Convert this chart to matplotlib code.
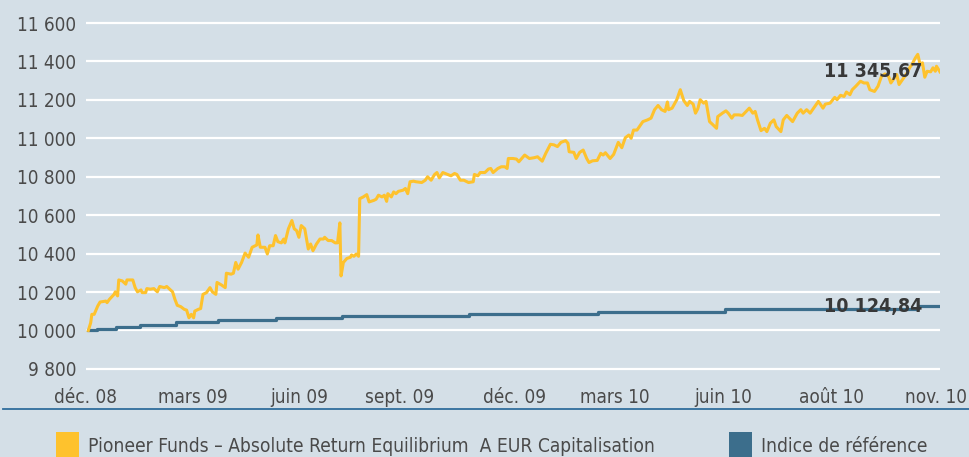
import numpy as np
import matplotlib
matplotlib.use('Agg')
import matplotlib.pyplot as plt
from matplotlib.ticker import FuncFormatter
from matplotlib.patches import Rectangle
from matplotlib.lines import Line2D


##### Data (jours depuis le début de la période, valeurs en EUR)
jours_fonds = [0, 2, 3, 5, 8, 10, 15, 16, 18, 22, 23, 25, 26, 29, 32, 33, 38, 40, 42, 45,
               46, 49, 50, 53, 56, 59, 61, 65, 67, 69, 72, 74, 76, 79, 82, 84, 86, 88, 90, 91,
               94, 96, 98, 101, 104, 106, 109, 110, 114, 117, 118, 122, 124, 126, 128, 131, 134, 137, 140, 144,
               145, 147, 151, 153, 155, 158, 160, 162, 165, 167, 168, 171, 174, 176, 178, 180, 182, 185, 188, 190,
               192, 195, 198, 201, 202, 205, 208, 211, 213, 215, 216, 218, 221, 224, 225, 227, 229, 231, 232, 235,
               238, 240, 244, 246, 248, 251, 253, 255, 256, 259, 261, 263, 265, 269, 271, 273, 275, 278, 280, 285,
               288, 290, 293, 296, 298, 300, 303, 307, 310, 313, 315, 318, 321, 325, 329, 330, 333, 335, 339, 342,
               344, 346, 350, 353, 356, 358, 359, 363, 366, 368, 370, 373, 377, 381, 384, 388, 391, 395, 398, 401,
               404, 408, 410, 411, 415, 417, 420, 423, 426, 428, 431, 435, 438, 440, 442, 446, 449, 453, 456, 459,
               462, 464, 466, 469, 474, 478, 481, 484, 487, 490, 493, 495, 496, 499, 503, 506, 509, 512, 514, 517,
               519, 521, 523, 526, 528, 531, 534, 537, 538, 542, 545, 547, 550, 552, 556, 559, 565, 568, 570, 572,
               575, 578, 580, 583, 586, 588, 592, 594, 597, 602, 606, 609, 611, 614, 617, 620, 624, 626, 628, 630,
               634, 638, 640, 643, 646, 648, 651, 653, 656, 660, 663, 666, 668, 672, 675, 678, 681, 684, 686, 688,
               691, 693, 696, 700, 702, 704, 707, 709, 711, 713, 715, 717, 720, 722, 724, 725, 728]
valeurs_fonds = [10000, 10040, 10084, 10084, 10127, 10148, 10153, 10145, 10162, 10188, 10201, 10180, 10263, 10258, 10241, 10263, 10263, 10223, 10201, 10211,
                 10197, 10197, 10218, 10215, 10218, 10201, 10229, 10223, 10229, 10218, 10201, 10162, 10131, 10124, 10110, 10106, 10066, 10084, 10066, 10101,
                 10110, 10114, 10188, 10197, 10223, 10201, 10188, 10250, 10236, 10223, 10298, 10293, 10298, 10354, 10319, 10354, 10403, 10381, 10433, 10445,
                 10497, 10433, 10433, 10398, 10441, 10441, 10494, 10462, 10456, 10476, 10456, 10529, 10572, 10529, 10520, 10485, 10546, 10529, 10424, 10450,
                 10415, 10450, 10476, 10476, 10485, 10468, 10468, 10456, 10456, 10560, 10284, 10354, 10375, 10381, 10393, 10386, 10398, 10386, 10686, 10695,
                 10707, 10669, 10677, 10683, 10704, 10695, 10704, 10672, 10712, 10695, 10721, 10712, 10724, 10730, 10739, 10712, 10774, 10777, 10774, 10770,
                 10782, 10800, 10782, 10812, 10822, 10794, 10822, 10812, 10805, 10817, 10812, 10782, 10782, 10770, 10774, 10812, 10805, 10822, 10822, 10840,
                 10843, 10822, 10843, 10852, 10852, 10843, 10895, 10895, 10892, 10878, 10892, 10913, 10895, 10899, 10904, 10881, 10922, 10969, 10966, 10957,
                 10979, 10988, 10974, 10930, 10927, 10895, 10927, 10939, 10895, 10874, 10883, 10885, 10922, 10913, 10925, 10895, 10916, 10979, 10951, 11003,
                 11017, 11000, 11043, 11043, 11087, 11096, 11105, 11149, 11171, 11149, 11140, 11189, 11149, 11157, 11201, 11253, 11196, 11171, 11192, 11178,
                 11131, 11154, 11201, 11183, 11192, 11087, 11070, 11052, 11113, 11131, 11143, 11131, 11105, 11122, 11122, 11119, 11157, 11131, 11140, 11096,
                 11040, 11052, 11035, 11079, 11096, 11061, 11035, 11096, 11119, 11087, 11131, 11149, 11131, 11149, 11131, 11157, 11192, 11175, 11157, 11178,
                 11183, 11213, 11201, 11224, 11218, 11241, 11227, 11253, 11271, 11297, 11288, 11288, 11253, 11244, 11271, 11323, 11335, 11323, 11288, 11306,
                 11332, 11280, 11306, 11341, 11367, 11384, 11419, 11437, 11384, 11393, 11318, 11349, 11346, 11367, 11349, 11375, 11345.67]

jours_indice = [0, 7, 24, 44, 75, 111, 160, 217, 325, 436, 544, 709, 728]
valeurs_indice = [10000, 10010, 10020, 10031, 10042, 10052, 10063, 10075, 10086, 10098, 10112, 10124.84, 10124.84]

mois_labels = ['déc. 08', 'mars 09', 'juin 09', 'sept. 09', 'déc. 09',
               'mars 10', 'juin 10', 'août 10', 'nov. 10']
mois_jours = [-2, 89, 180, 266, 364, 450, 543, 635, 725]
y_ticks = [9800, 10000, 10200, 10400, 10600, 10800, 11000, 11200, 11400, 11600]

nom_fonds = 'Pioneer Funds – Absolute Return Equilibrium  A EUR Capitalisation'
nom_indice = 'Indice de référence'


###### Style
plt.rcParams['font.family'] = ['DejaVu Sans']
plt.rcParams['font.stretch'] = 'condensed'
fond = '#d4dfe7'
jaune = '#fec22d'
bleu = '#3c6e8c'
gris = '#4a4a4a'


###### Figure
fig = plt.figure(figsize=(9.69, 4.57), dpi=100, facecolor=fond)
ax = fig.add_axes([86/969, 1 - 376.6/457, (940 - 86)/969, (376.6 - 11.5)/457])
ax.set_facecolor(fond)

ax.plot(jours_indice, valeurs_indice, color=bleu, lw=2.3, drawstyle='steps-post', zorder=3)
ax.plot(jours_fonds, valeurs_fonds, color=jaune, lw=2.2, zorder=4)

ax.set_xlim(0, 728)
ax.set_ylim(9760, 11660)
ax.set_yticks(y_ticks)
ax.yaxis.set_major_formatter(FuncFormatter(lambda v, p: f'{int(v):,}'.replace(',', ' ')))
ax.set_xticks(mois_jours)
ax.set_xticklabels(mois_labels)
ax.grid(axis='y', color='white', lw=1.6, zorder=1)
ax.tick_params(length=0, labelsize=13.6, labelcolor=gris)
ax.tick_params(axis='y', pad=7)
ax.tick_params(axis='x', pad=8)
for s in ax.spines.values():
    s.set_visible(False)

# dernières valeurs
ax.text(713, valeurs_fonds[-1], '11 345,67', ha='right', va='center',
        fontsize=14, fontweight='bold', color='#383838', zorder=5)
ax.text(713, valeurs_indice[-1], '10 124,84', ha='right', va='center',
        fontsize=14, fontweight='bold', color='#383838', zorder=5)

# trait sous l'axe
fig.add_artist(Line2D([0.003, 1], [1 - 409/457] * 2, transform=fig.transFigure,
                      color='#2f6d9c', lw=1.3))

# légende
for x0, c, lab in [(56, jaune, nom_fonds), (729, bleu, nom_indice)]:
    fig.add_artist(Rectangle((x0/969, 1 - 458/457), 23/969, 26/457,
                             transform=fig.transFigure, color=c, lw=0))
    fig.text((x0 + 32)/969, 1 - 447/457, lab, fontsize=13.8, color=gris, va='center')

fig.savefig('out.png', dpi=100, facecolor=fond)
